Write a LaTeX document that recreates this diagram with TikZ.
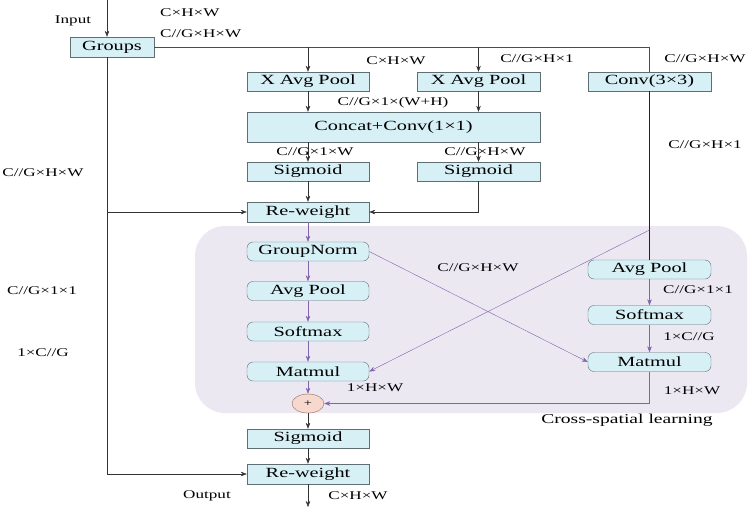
\documentclass[tikz,border=0pt]{standalone}
\usepackage{fontspec}
\setmainfont{Liberation Serif}[FakeStretch=1.45]
\usetikzlibrary{arrows.meta,shapes.geometric}
\definecolor{boxfill}{RGB}{214,240,246}
\definecolor{boxline}{RGB}{95,110,115}
\definecolor{purp}{RGB}{128,100,172}
\definecolor{regionfill}{RGB}{236,232,242}
\definecolor{plusfill}{RGB}{246,216,206}
\definecolor{plusline}{RGB}{150,105,95}
\tikzset{
  box/.style={draw=boxline, fill=boxfill, minimum width=122pt, minimum height=19pt, inner sep=0pt, font=\fontsize{14}{14}\selectfont},
  rbox/.style={box, rounded corners=6pt},
  lab/.style={inner sep=0pt, font=\fontsize{11.8}{12}\selectfont},
  arr/.style={draw=black!80, -{Stealth[length=6pt,width=4.5pt]}},
  parr/.style={draw=purp, -{Stealth[length=6pt,width=4.5pt]}},
  plain/.style={draw=black!70},
}
\begin{document}
\begin{tikzpicture}[x=1pt,y=-1pt]
\useasboundingbox (0,0) rectangle (749,507);
% region
\fill[regionfill, rounded corners=30pt] (195,226) rectangle (747,413);
% nodes
\node[box, minimum width=84pt, minimum height=20pt] (groups) at (112,47) {Groups};
\node[box] (xap1) at (308,81.5) {X Avg Pool};
\node[box, minimum width=123pt] (xap2) at (478.5,81.5) {X Avg Pool};
\node[box, minimum width=123pt] (conv) at (649.5,81.5) {Conv(3×3)};
\node[box, minimum width=293pt, minimum height=30pt] (concat) at (393.5,127) {Concat+Conv(1×1)};
\node[box] (sig1) at (308,171.5) {Sigmoid};
\node[box, minimum width=123pt] (sig2) at (478.5,171.5) {Sigmoid};
\node[box, minimum height=20pt] (rw1) at (308,212) {Re-weight};
\node[rbox] (gn) at (308,251.5) {GroupNorm};
\node[rbox] (ap1) at (308,291) {Avg Pool};
\node[rbox] (sm1) at (308,331.5) {Softmax};
\node[rbox] (mm1) at (308,371.5) {Matmul};
\node[ellipse, draw=plusline, fill=plusfill, minimum width=32pt, minimum height=19pt, inner sep=0pt, font=\fontsize{10}{10}\selectfont] (plus) at (308,403.5) {+};
\node[rbox, minimum width=123pt] (ap2) at (649.5,269.5) {Avg Pool};
\node[rbox, minimum width=123pt] (sm2) at (649.5,315) {Softmax};
\node[rbox, minimum width=123pt] (mm2) at (649.5,362) {Matmul};
\node[box] (sig3) at (308,438.5) {Sigmoid};
\node[box, minimum height=20pt] (rw2) at (308,474) {Re-weight};
% labels
\node[lab] (linput) at (73,21) {Input};
\node[lab] (lchw1) at (160,13) [anchor=west] {C×H×W};
\node[lab] (lcg1) at (160,34) [anchor=west] {C//G×H×W};
\node[lab] (lchw2) at (396,61) {C×H×W};
\node[lab] (lcgh1) at (537,59) {C//G×H×1};
\node[lab] (lcghw2) at (705,59) {C//G×H×W};
\node[lab] (lwh) at (393,103) {C//G×1×(W+H)};
\node[lab] (lcg1w) at (315,152) {C//G×1×W};
\node[lab] (lcghw3) at (485,152) {C//G×H×W};
\node[lab] (lcgh12) at (705,145) {C//G×H×1};
\node[lab] (lleft1) at (43,173) {C//G×H×W};
\node[lab] (lleft2) at (42,291) {C//G×1×1};
\node[lab] (lleft3) at (43,353) {1×C//G};
\node[lab] (lmid) at (478,268) {C//G×H×W};
\node[lab] (lr1) at (698,290) {C//G×1×1};
\node[lab] (lr2) at (689,337) {1×C//G};
\node[lab] (lr3) at (692,391) {1×H×W};
\node[lab] (lhw) at (375,388) {1×H×W};
\node[font=\fontsize{13.5}{14}\selectfont, inner sep=0pt] (lcross) at (627,420) {Cross-spatial learning};
\node[lab] (lout) at (207,496) {Output};
\node[lab] (lchwo) at (358,496) {C×H×W};
% coordinates
\coordinate (in) at (107,0);
\coordinate (gb) at (107,57);
\coordinate (tr) at (649.5,47);
\coordinate (br) at (649.5,230);
\coordinate (out) at (308,507);
% connectors
\draw[arr] (in) -- (in |- groups.north);
\draw[plain] (groups.east) -- (tr) -- (conv.north);
\draw[arr] (xap1.north |- groups.east) -- (xap1.north);
\draw[arr] (xap2.north |- groups.east) -- (xap2.north);
\draw[arr] (xap1.south) -- (xap1.south |- concat.north);
\draw[arr] (xap2.south) -- (xap2.south |- concat.north);
\draw[arr] (sig1.north |- concat.south) -- (sig1.north);
\draw[arr] (sig2.north |- concat.south) -- (sig2.north);
\draw[arr] (sig1.south) -- (rw1.north);
\draw[arr] (sig2.south) -- (sig2.south |- rw1.east) -- (rw1.east);
\draw[arr] (gb) -- (gb |- rw2.west) -- (rw2.west);
\draw[arr] (gb |- rw1.west) -- (rw1.west);
\draw[draw=black!70!purp] (conv.south) -- (ap2.north);
\draw[parr] (rw1.south) -- (gn.north);
\draw[parr] (gn.south) -- (ap1.north);
\draw[parr] (ap1.south) -- (sm1.north);
\draw[parr] (sm1.south) -- (mm1.north);
\draw[parr] (mm1.south) -- (plus.north);
\draw[parr] (gn.east) -- (mm2.west);
\draw[parr] (br) -- (mm1.east);
\draw[parr] (ap2.south) -- (sm2.north);
\draw[parr] (sm2.south) -- (mm2.north);
\draw[parr] (mm2.south) -- (mm2.south |- plus.east) -- (plus.east);
\draw[arr] (plus.south) -- (sig3.north);
\draw[arr] (sig3.south) -- (rw2.north);
\draw[arr] (rw2.south) -- (out);
\end{tikzpicture}
\end{document}
